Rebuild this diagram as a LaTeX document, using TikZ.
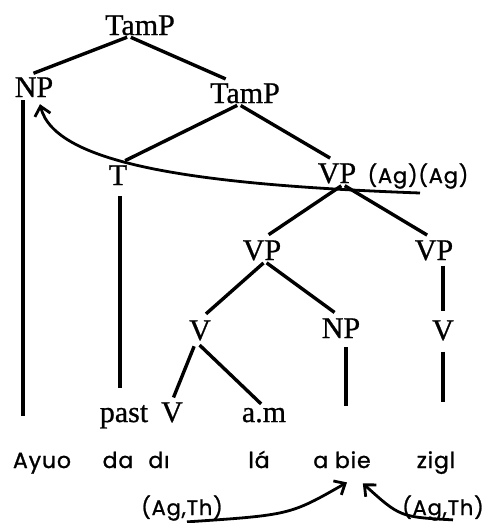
\documentclass[tikz,border=0pt]{standalone}
\usepackage{fontspec}
\usetikzlibrary{arrows.meta}
\newfontfamily\serifcat{Liberation Serif}[FakeBold=0.8]
\newfontfamily\sansword{Poppins}[LetterSpace=4,FakeBold=1.2]
\tikzset{
  cat/.style={font={\serifcat\fontsize{30}{32}\selectfont}, inner sep=1pt, anchor=base},
  word/.style={font={\sansword\fontsize{22}{24}\selectfont}, inner sep=1pt, anchor=base},
  role/.style={font={\sansword\fontsize{21}{23}\selectfont}, inner sep=1pt, anchor=base},
  branch/.style={line width=3.4pt, shorten <=2pt, shorten >=8pt},
  stem/.style={line width=3.4pt},
  move/.style={line width=2.8pt, -{Straight Barb[length=9pt,width=16pt]}},
}
\begin{document}
\begin{tikzpicture}[x=1pt,y=-1pt]
    \useasboundingbox (0,0) rectangle (490,523);
    % Categories
    \node[cat] (tamp) at (140,35) {TamP};
    \node[cat] (np) at (34,97) {NP};
    \node[cat] (tamp2) at (245,103) {TamP};
    \node[cat] (t) at (118,185) {T};
    \node[cat] (vp) at (337,183) {VP};
    \node[role] (agag) at (418,183) {(Ag)(Ag)};
    \node[cat] (vpl) at (262,260) {VP};
    \node[cat] (vpr) at (434,260) {VP};
    \node[cat] (v) at (200,340) {V};
    \node[cat] (np2) at (341,338) {NP};
    \node[cat] (vr) at (443,340) {V};
    \node[cat] (past) at (124,422) {past};
    \node[cat] (vv) at (172,422) {V};
    \node[cat] (am) at (264,422) {a.m};
    % Words
    \node[word] (ayuo) at (42,468) {Ayuo};
    \node[word] (da) at (118,468) {da};
    \node[word] (di) at (159,468) {dı};
    \node[word] (la) at (259,468) {lá};
    \node[word] (abie) at (342,468) {a bie};
    \node[word] (zigl) at (436,468) {zigl};
    \node[role] (agth1) at (182,515) {(Ag,Th)};
    \node[role] (agth2) at (443,515) {(Ag,Th)};
    % Branch points
    \coordinate (tamp-b) at ([xshift=-11pt]tamp.south);
    \coordinate (tamp2-b) at ([xshift=-6pt]tamp2.south);
    \coordinate (vp-b) at ([xshift=6pt]vp.south);
    \coordinate (vpl-b) at ([xshift=3pt]vpl.south);
    \coordinate (v-b) at ([xshift=-4pt]v.south);
    % Branches
    \draw[branch] (tamp-b) -- ([xshift=-8pt]np.north);
    \draw[branch] (tamp-b) -- ([xshift=-12pt]tamp2.north);
    \draw[branch] (tamp2-b) -- (t.north);
    \draw[branch] (tamp2-b) -- (vp.north);
    \draw[branch] (vp-b) -- (vpl.north);
    \draw[branch] (vp-b) -- (vpr.north);
    \draw[branch] (vpl-b) -- (v.north);
    \draw[branch] (vpl-b) -- (np2.north);
    \draw[branch, shorten <=4pt] (vpr.south -| vr.north) -- (vr.north);
    \draw[branch, shorten <=5pt, shorten >=4pt] (v-b) -- (vv.north);
    \draw[branch, shorten <=5pt, shorten >=4pt] (v-b) -- (am.north);
    \draw[stem, shorten <=2pt, shorten >=36pt] ([xshift=-11pt]np.south) -- ([xshift=-11pt]np.south |- ayuo.north);
    \draw[stem, shorten <=10pt, shorten >=16pt] ([xshift=2pt]t.south) -- ([xshift=2pt]t.south |- past.north);
    \draw[stem, shorten <=8pt, shorten >=44pt] ([xshift=5pt]np2.south) -- ([xshift=5pt]np2.south |- abie.north);
    \draw[stem, shorten <=10pt, shorten >=48pt] (vr.south) -- (vr.south |- zigl.north);
    % Movement
    \coordinate (tail) at (420,193);
    \draw[move] (tail) .. controls (200,185) and (55,165) .. ([shift={(6,6)}]np.south);
    \draw[move] ([xshift=5pt]agth1.south) .. controls (290,515) .. ([shift={(5,13)}]abie.south);
    \draw[move] ([shift={(10,-2)}]agth2.south) .. controls (400,517) .. ([shift={(-9,14)}]abie.south east);
\end{tikzpicture}
\end{document}
